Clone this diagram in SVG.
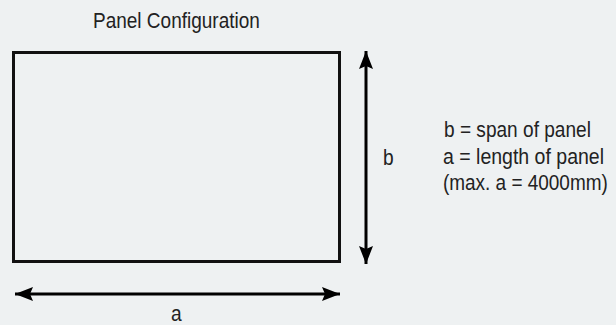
<svg xmlns="http://www.w3.org/2000/svg" width="616" height="325" viewBox="0 0 616 325">
<defs>
<style>
.t{font-family:"Liberation Sans",Arial,sans-serif;font-size:22px;fill:#222;}
.dim{stroke:#000;stroke-width:3;fill:none;}
</style>
<marker id="ah" viewBox="0 0 18 14" refX="18" refY="7" markerWidth="18" markerHeight="14" markerUnits="userSpaceOnUse" orient="auto-start-reverse">
<path d="M0,0 L18,7 L0,14 L3,7 Z" fill="#000"/>
</marker>
</defs>
<rect width="616" height="325" fill="#eef1f2"/>
<text class="t" transform="translate(93,28) scale(0.864,1)">Panel Configuration</text>
<g id="panel">
<rect x="13.5" y="52.5" width="326" height="209" fill="none" stroke="#111" stroke-width="3"/>
</g>
<g id="connectors">
<line class="dim" x1="366" y1="51" x2="366" y2="264" marker-start="url(#ah)" marker-end="url(#ah)"/>
<line class="dim" x1="15" y1="294" x2="340" y2="294" marker-start="url(#ah)" marker-end="url(#ah)"/>
</g>
<text class="t" transform="translate(171,321) scale(0.87,1)">a</text>
<text class="t" transform="translate(383,165) scale(0.87,1)">b</text>
<g id="legend">
<text class="t" transform="translate(444,137) scale(0.868,1)">b = span of panel</text>
<text class="t" transform="translate(443,164) scale(0.887,1)">a = length of panel</text>
<text class="t" transform="translate(443,190) scale(0.862,1)">(max. a = 4000mm)</text>
</g>
</svg>
